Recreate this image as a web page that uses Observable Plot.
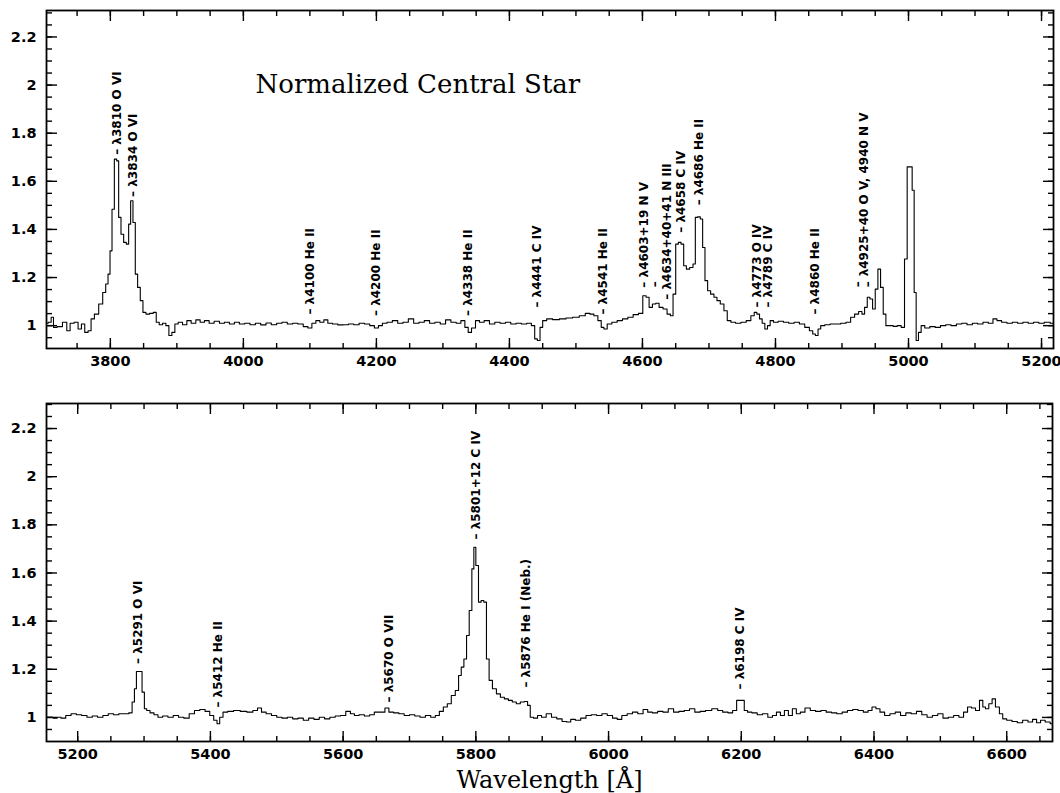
<!DOCTYPE html>
<html><head><meta charset="utf-8">
<script src="https://cdn.jsdelivr.net/npm/d3@7"></script>
<script src="https://cdn.jsdelivr.net/npm/@observablehq/plot@0.6"></script>
<style>body{margin:0;background:#fff} #chart svg{display:block;overflow:visible}</style>
</head><body><div id="chart"></div>
<script>
// ---- Top panel spectrum (wavelength in Å, normalized flux) ----
const topWave = [3704,3709,3713,3716,3724,3732,3737,3742,3749,3754,3759,3764,3769,3773,3779,3786,3791,3795,3798,3801,3804,3808,3811,3814,3818,3822,3826,3829,3832,3836,3839,3843,3847,3851,3856,3862,3867,3871,3876,3881,3886,3890,3895,3899,3905,3912,3918,3925,3932,3938,3945,3952,3960,3968,3975,3983,3990,3998,4006,4014,4022,4030,4038,4046,4054,4062,4070,4078,4086,4094,4100,4106,4112,4118,4124,4130,4138,4146,4154,4162,4170,4178,4186,4194,4200,4206,4212,4220,4228,4236,4244,4252,4260,4268,4276,4284,4292,4300,4308,4316,4324,4330,4336,4340,4346,4352,4358,4366,4374,4382,4390,4398,4406,4414,4422,4430,4436,4440,4444,4448,4452,4460,4470,4480,4490,4500,4510,4518,4524,4530,4536,4540,4544,4550,4558,4566,4574,4582,4590,4598,4603,4608,4612,4618,4622,4628,4634,4640,4644,4648,4652,4656,4660,4664,4668,4674,4678,4681,4685,4689,4692,4696,4700,4705,4710,4714,4720,4725,4730,4736,4744,4752,4760,4766,4770,4774,4778,4782,4786,4790,4794,4800,4808,4816,4824,4832,4840,4848,4854,4858,4862,4866,4870,4878,4886,4894,4902,4910,4916,4922,4928,4932,4936,4940,4944,4948,4952,4956,4960,4964,4968,4974,4980,4986,4992,4996,5000,5004,5007,5010,5013,5017,5021,5028,5036,5044,5052,5060,5068,5076,5084,5092,5100,5108,5116,5124,5130,5136,5144,5152,5160,5168,5176,5184,5192,5200,5208,5218];
const topFlux = [1.010,1.014,1.035,0.993,0.996,1.014,0.979,1.010,1.014,0.986,1.007,0.972,0.979,1.028,1.048,1.090,1.138,1.173,1.214,1.311,1.484,1.692,1.685,1.450,1.380,1.346,1.339,1.422,1.519,1.429,1.214,1.159,1.104,1.055,1.048,1.051,1.055,1.014,1.004,1.010,1.000,0.959,0.972,1.007,1.014,1.004,1.021,1.010,1.024,1.014,1.021,1.010,1.018,1.010,1.014,1.007,1.014,1.007,1.010,1.004,1.010,1.003,1.011,1.004,1.010,1.014,1.007,1.010,1.007,0.996,0.990,1.010,1.021,1.014,1.024,1.010,1.007,1.003,1.004,1.007,1.004,1.010,1.007,1.000,0.990,1.000,1.010,1.014,1.021,1.010,1.014,1.028,1.010,1.014,1.021,1.010,1.014,1.007,1.024,1.014,1.010,1.021,0.993,0.972,0.990,1.021,1.014,1.021,1.007,1.014,1.010,1.014,1.007,1.010,1.007,1.010,1.000,0.945,0.938,0.993,1.021,1.028,1.025,1.028,1.032,1.035,1.041,1.051,1.048,1.041,1.021,0.993,0.986,1.007,1.014,1.021,1.028,1.035,1.046,1.051,1.124,1.118,1.076,1.090,1.093,1.076,1.069,1.048,1.041,1.131,1.339,1.346,1.339,1.249,1.235,1.242,1.256,1.450,1.452,1.443,1.325,1.187,1.145,1.131,1.118,1.104,1.090,1.062,1.021,1.014,1.010,1.014,1.021,1.041,1.055,1.048,1.028,1.010,0.986,1.000,1.021,1.014,1.018,1.014,1.010,1.014,1.007,0.993,0.979,0.965,0.959,0.986,1.000,1.004,1.007,1.007,1.010,1.014,1.035,1.048,1.059,1.048,1.076,1.118,1.111,1.069,1.152,1.235,1.159,1.048,1.000,1.000,0.997,1.000,0.993,1.277,1.660,1.660,1.563,1.138,0.938,0.972,1.000,0.990,0.996,0.993,1.000,1.004,1.000,1.007,1.010,1.004,1.010,1.007,1.014,1.010,1.028,1.021,1.014,1.010,1.014,1.010,1.014,1.010,1.014,1.010,1.014,1.010];

// ---- Bottom panel spectrum ----
const botWave = [5154,5160,5166,5172,5178,5186,5194,5202,5210,5218,5226,5234,5242,5250,5258,5266,5274,5280,5284,5287,5290,5295,5299,5302,5306,5312,5318,5324,5332,5340,5348,5356,5364,5372,5380,5388,5396,5402,5408,5412,5416,5422,5430,5440,5450,5460,5468,5474,5480,5488,5496,5504,5512,5520,5528,5536,5544,5552,5560,5568,5576,5584,5592,5600,5608,5614,5620,5628,5636,5644,5650,5660,5666,5672,5680,5688,5696,5704,5712,5720,5728,5736,5742,5748,5754,5760,5766,5772,5776,5780,5784,5788,5792,5796,5798,5802,5806,5810,5814,5818,5822,5828,5834,5840,5846,5852,5858,5864,5870,5876,5880,5884,5890,5896,5902,5910,5918,5926,5934,5940,5946,5954,5962,5970,5978,5986,5994,6002,6010,6016,6024,6032,6040,6048,6056,6062,6070,6078,6086,6094,6102,6110,6118,6126,6134,6142,6150,6161,6168,6176,6184,6190,6196,6202,6207,6212,6220,6228,6236,6244,6250,6256,6262,6268,6274,6280,6286,6292,6300,6308,6316,6324,6332,6340,6348,6356,6364,6372,6380,6388,6394,6400,6406,6412,6420,6428,6436,6444,6452,6460,6468,6476,6484,6492,6500,6508,6516,6524,6532,6538,6544,6550,6556,6562,6566,6570,6576,6580,6586,6592,6596,6604,6612,6620,6628,6636,6642,6648,6654,6662,6669];
const botFlux = [1.001,1.001,0.997,1.001,0.997,1.008,1.015,1.011,1.008,1.001,1.006,1.001,1.008,1.015,1.011,1.015,1.015,1.019,1.064,1.119,1.191,1.191,1.105,1.036,1.029,1.019,1.011,1.001,1.006,1.001,1.008,1.001,0.997,1.015,1.029,1.033,1.025,1.008,0.988,0.974,1.001,1.022,1.025,1.029,1.025,1.022,1.029,1.039,1.022,1.015,1.008,1.001,0.997,1.001,0.994,0.997,0.988,0.997,0.992,1.001,0.994,1.001,1.006,1.008,1.025,1.015,1.008,1.011,1.006,1.011,1.022,1.022,1.039,1.022,1.019,1.015,1.008,1.011,1.006,1.001,1.008,1.001,1.008,1.025,1.043,1.057,1.091,1.112,1.174,1.209,1.243,1.340,1.444,1.617,1.707,1.631,1.479,1.486,1.479,1.243,1.154,1.119,1.098,1.084,1.077,1.071,1.064,1.057,1.064,1.066,1.050,1.001,0.997,1.008,1.001,1.015,1.001,0.994,0.983,0.981,0.992,0.988,0.997,1.008,1.011,1.008,1.015,1.008,0.997,0.992,1.008,1.015,1.022,1.015,1.033,1.022,1.019,1.025,1.022,1.036,1.022,1.025,1.029,1.036,1.022,1.025,1.029,1.036,1.029,1.022,1.019,1.029,1.071,1.071,1.029,1.022,1.019,1.011,1.015,1.001,1.008,1.022,1.008,1.029,1.008,1.036,1.015,1.022,1.039,1.029,1.025,1.029,1.022,1.019,1.015,1.022,1.029,1.033,1.029,1.022,1.029,1.043,1.036,1.022,1.008,1.015,1.022,1.008,1.019,1.015,1.025,1.011,1.001,1.008,1.015,0.997,1.001,1.008,1.001,1.022,1.043,1.039,1.029,1.071,1.043,1.036,1.057,1.077,1.043,1.015,0.994,0.988,0.983,0.978,0.988,0.981,0.992,0.978,0.988,0.981,0.974];

// ---- Line identifications ----
const topLabelWave = [3810,3834,4100,4200,4338,4441,4541,4603,4637,4658,4686,4773,4789,4860,4933];
const topLabelFlux = [1.71,1.535,1.046,1.040,1.040,1.075,1.046,1.158,1.108,1.386,1.50,1.075,1.075,1.046,1.205];
const topLabelText = ["– λ3810 O VI","– λ3834 O VI","– λ4100 He II","– λ4200 He II","– λ4338 He II","– λ4441 C IV","– λ4541 He II","– λ4603+19 N V","– λ4634+40+41 N III","– λ4658 C IV","– λ4686 He II","– λ4773 O IV","– λ4789 C IV","– λ4860 He II","λ4925+40 O V, 4940 N V"];
const topDashWave = [4619,4925,4940];
const topDashFlux = [1.16,1.16,1.16];

const botLabelWave = [5291,5412,5670,5801,5876,6198];
const botLabelFlux = [1.222,1.041,1.062,1.739,1.124,1.116];
const botLabelText = ["– λ5291 O VI","– λ5412 He II","– λ5670 O VII","– λ5801+12 C IV","– λ5876 He I (Neb.)","– λ6198 C IV"];

// ---- Axes ----
const topXDomain = [3704, 5218];
const botXDomain = [5153, 6669];
const yDomainTop = [0.905, 2.31];
const yDomainBot = [0.9, 2.304];
const topXMajor = [3800,4000,4200,4400,4600,4800,5000,5200];
const botXMajor = [5200,5400,5600,5800,6000,6200,6400,6600];
const yMajor = [1,1.2,1.4,1.6,1.8,2,2.2];
const yMinor = d3.range(0.95, 2.301, 0.05).map(v => +v.toFixed(2));

const titleText = "Normalized Central Star";
const xLabelText = "Wavelength [Å]";

const SANS = "DejaVu Sans";
const SERIF = "DejaVu Serif";

function xMinorTicks(domain) {
  return d3.range(Math.ceil(domain[0] / 50) * 50, domain[1], 50);
}

function frameTicks(xMajor, xMinor) {
  const blank = () => "";
  const o = {label: null, tickFormat: blank, strokeWidth: 1.4};
  return [
    Plot.axisX({...o, anchor: "bottom", ticks: xMajor, tickSize: 10, dy: -10}),
    Plot.axisX({...o, anchor: "bottom", ticks: xMinor, tickSize: 5, dy: -5}),
    Plot.axisX({...o, anchor: "top", ticks: xMajor, tickSize: 10, dy: 10}),
    Plot.axisX({...o, anchor: "top", ticks: xMinor, tickSize: 5, dy: 5}),
    Plot.axisY({...o, anchor: "left", ticks: yMajor, tickSize: 11, dx: 11}),
    Plot.axisY({...o, anchor: "left", ticks: yMinor, tickSize: 6, dx: 6}),
    Plot.axisY({...o, anchor: "right", ticks: yMajor, tickSize: 11, dx: -11}),
    Plot.axisY({...o, anchor: "right", ticks: yMinor, tickSize: 6, dx: -6}),
    Plot.axisX({anchor: "bottom", ticks: xMajor, tickSize: 0, tickPadding: 7, label: null,
      tickFormat: d => String(d), fontSize: 14.5, fontWeight: "bold", fontFamily: SANS}),
    Plot.axisY({anchor: "left", ticks: yMajor, tickSize: 0, tickPadding: 10, label: null,
      tickFormat: d => String(+d.toFixed(1)), fontSize: 14.5, fontWeight: "bold", fontFamily: SANS})
  ];
}

function panel({wave, flux, xDomain, yDomain, xMajor, lw, lf, lt, dw, df, height, marginTop, marginBottom, marginRight, extra}) {
  const spec = wave.map((w, i) => ({w, f: flux[i]}));
  const labels = lw.map((w, i) => ({w, f: lf[i], t: lt[i]}));
  const dashes = dw.map((w, i) => ({w, f: df[i]}));
  return Plot.plot({
    width: 1060, height, marginLeft: 46, marginRight, marginTop, marginBottom,
    x: {domain: xDomain}, y: {domain: yDomain},
    style: {fontFamily: SANS, fontSize: "14.5px", fontWeight: "bold", background: "white"},
    marks: [
      ...frameTicks(xMajor, xMinorTicks(xDomain)),
      Plot.line(spec, {x: "w", y: "f", curve: "step", stroke: "black", strokeWidth: 1.1}),
      Plot.text(labels, {x: "w", y: "f", text: "t", rotate: -90, textAnchor: "start", lineAnchor: "middle",
        fontSize: 12, fontWeight: "bold", fontFamily: SANS, fill: "black"}),
      Plot.text(dashes, {x: "w", y: "f", text: () => "–", rotate: -90, textAnchor: "start", lineAnchor: "middle",
        fontSize: 12, fontWeight: "bold", fontFamily: SANS, fill: "black"}),
      Plot.frame({stroke: "black", strokeWidth: 1.8}),
      ...(extra || [])
    ]
  });
}

const topChart = panel({
  wave: topWave, flux: topFlux, xDomain: topXDomain, yDomain: yDomainTop, xMajor: topXMajor,
  lw: topLabelWave, lf: topLabelFlux, lt: topLabelText, dw: topDashWave, df: topDashFlux,
  height: 380, marginTop: 10, marginBottom: 32, marginRight: 7,
  extra: [Plot.text([titleText], {frameAnchor: "top-left", dx: 209, dy: 74.5, textAnchor: "start", lineAnchor: "middle",
    fontSize: 26, fontWeight: "normal", fontFamily: SERIF, fill: "black"})]
});
const bottomChart = panel({
  wave: botWave, flux: botFlux, xDomain: botXDomain, yDomain: yDomainBot, xMajor: botXMajor,
  lw: botLabelWave, lf: botLabelFlux, lt: botLabelText, dw: [], df: [],
  height: 413, marginTop: 23, marginBottom: 52, marginRight: 8,
  extra: [Plot.text([xLabelText], {frameAnchor: "bottom", dy: 39, textAnchor: "middle", lineAnchor: "middle",
    fontSize: 24, fontWeight: "normal", fontFamily: SERIF, fill: "black"})]
});
document.getElementById("chart").append(topChart, bottomChart);
</script>
</body></html>
